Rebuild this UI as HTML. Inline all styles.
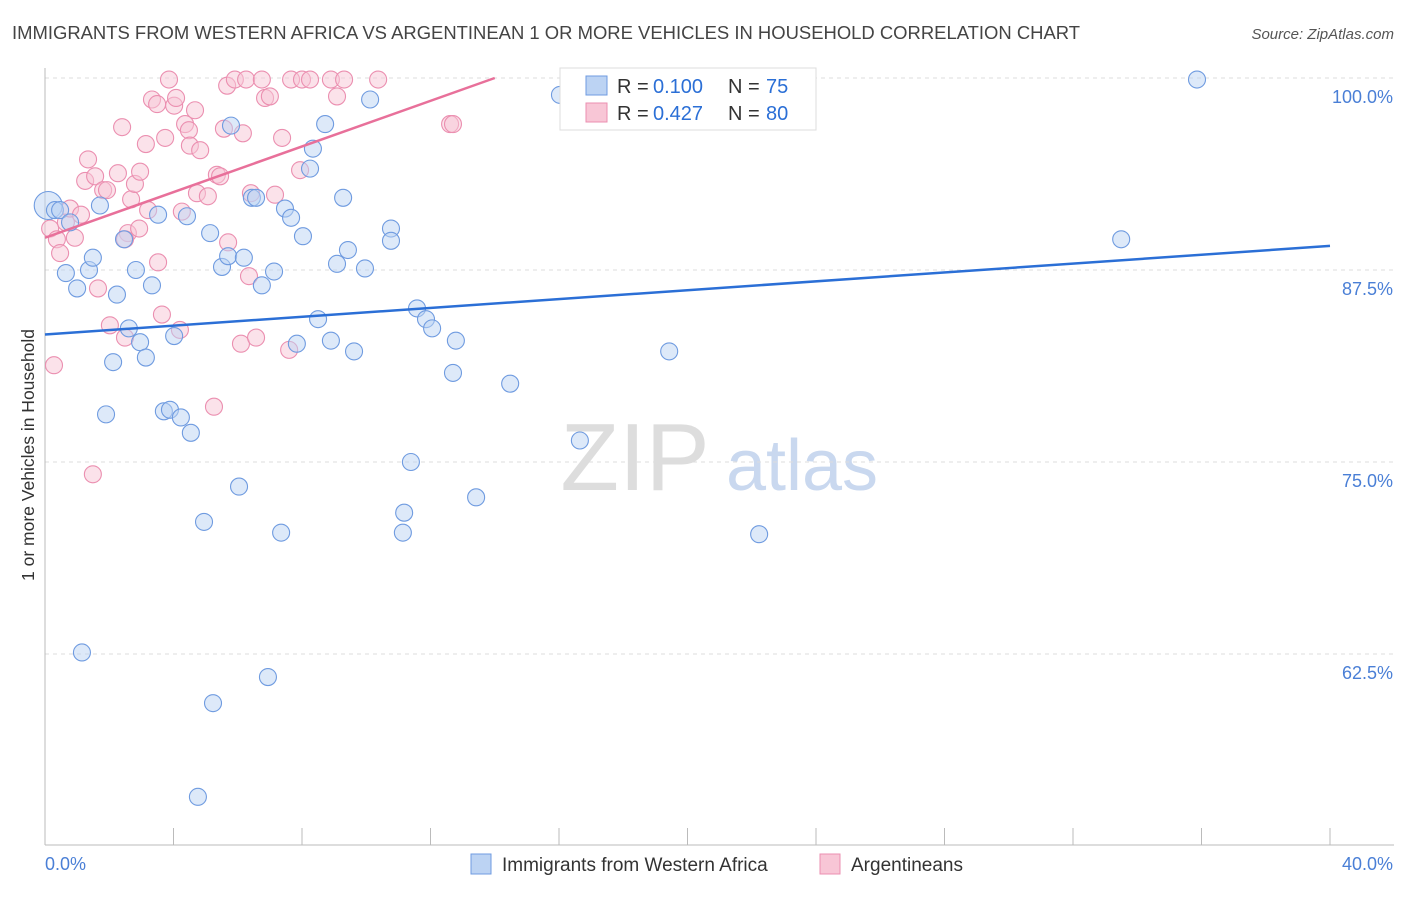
<!DOCTYPE html>
<html><head><meta charset="utf-8"><style>
body{margin:0;background:#fff;font-family:"Liberation Sans",sans-serif;}
svg text{font-family:"Liberation Sans",sans-serif;}
</style></head><body>
<svg id="chart" width="1406" height="892" viewBox="0 0 1406 892" xmlns="http://www.w3.org/2000/svg">
<text x="12" y="39" font-size="18.4" fill="#444" textLength="1068" lengthAdjust="spacingAndGlyphs">IMMIGRANTS FROM WESTERN AFRICA VS ARGENTINEAN 1 OR MORE VEHICLES IN HOUSEHOLD CORRELATION CHART</text>
<text x="1394" y="39" font-size="15" fill="#555" text-anchor="end" font-style="italic">Source: ZipAtlas.com</text>
<text transform="translate(34,455) rotate(-90)" font-size="17.5" fill="#333" text-anchor="middle">1 or more Vehicles in Household</text>
<g>
<text x="635" y="490" font-size="96" fill="#ddd" font-family="Liberation Serif" text-anchor="middle">ZIP</text>
<text x="802" y="490" font-size="72" fill="#c9d8ef" text-anchor="middle">atlas</text>
</g>
<g id="grid"></g><g id="ticks"></g><g id="trends"></g><g id="pts"></g>
<g>
<rect x="560" y="68" width="256" height="62" fill="#fff" stroke="#ddd"/>
<rect x="586" y="76" width="21" height="19" fill="#bcd3f3" stroke="#6f9be0"/>
<text x="617" y="93" font-size="20" fill="#333">R =</text>
<text x="653" y="93" font-size="20" fill="#2b6fd6">0.100</text>
<text x="728" y="93" font-size="20" fill="#333">N =</text>
<text x="766" y="93" font-size="20" fill="#2b6fd6">75</text>
<rect x="586" y="103" width="21" height="19" fill="#f8c6d6" stroke="#eb8fb0"/>
<text x="617" y="120" font-size="20" fill="#333">R =</text>
<text x="653" y="120" font-size="20" fill="#2b6fd6">0.427</text>
<text x="728" y="120" font-size="20" fill="#333">N =</text>
<text x="766" y="120" font-size="20" fill="#2b6fd6">80</text>
</g>
<g>
<rect x="471" y="854" width="20" height="20" fill="#bcd3f3" stroke="#6f9be0"/>
<text x="502" y="871" font-size="19" fill="#333">Immigrants from Western Africa</text>
<rect x="820" y="854" width="20" height="20" fill="#f8c6d6" stroke="#eb8fb0"/>
<text x="851" y="871" font-size="19" fill="#333">Argentineans</text>
</g>
</svg>
<script>
const xTicks=[0,40];
const yTicks=[100,87.5,75,62.5];
const blueX=[0.1,0.31,0.47,0.78,0.65,1.0,1.37,1.49,1.71,2.24,2.12,1.9,2.46,2.83,2.61,2.96,3.14,3.33,3.52,3.7,3.89,4.02,4.23,4.42,4.54,4.95,5.14,5.23,4.76,5.51,5.7,5.79,6.04,6.19,6.44,6.57,6.75,6.94,7.13,7.35,7.47,7.66,7.84,8.03,8.25,8.34,8.5,8.72,8.9,9.09,9.28,9.43,9.62,9.96,10.12,10.77,10.77,11.18,11.14,11.39,11.58,11.86,12.05,12.7,12.79,13.42,14.48,16.03,16.65,19.43,22.23,33.5,35.86,1.15];
const blueY=[91.7,91.4,91.4,90.6,87.3,86.3,87.5,88.3,91.7,85.9,81.5,78.1,89.5,87.5,83.7,82.8,81.8,86.5,91.1,78.3,78.4,83.2,77.9,91.0,76.9,71.1,89.9,59.3,53.2,87.7,88.4,96.9,73.4,88.3,92.2,92.2,86.5,61.0,87.4,70.4,91.5,90.9,82.7,89.7,94.1,95.4,84.3,97.0,82.9,87.9,92.2,88.8,82.2,87.6,98.6,90.2,89.4,71.7,70.4,75.0,85.0,84.3,83.7,80.8,82.9,72.7,80.1,98.9,76.4,82.2,70.3,89.5,99.9,62.6];
const pinkX=[0.28,0.16,0.37,0.47,0.65,0.78,0.93,1.12,1.34,1.25,1.56,1.65,1.81,1.93,1.49,2.02,2.27,2.4,2.49,2.58,2.68,2.8,2.96,2.93,3.14,3.21,3.33,3.49,3.52,3.64,3.74,3.86,4.02,4.08,4.2,4.26,4.36,4.48,4.51,4.67,4.73,5.07,5.26,5.35,5.45,5.57,5.67,5.7,5.91,6.1,6.16,6.26,6.35,6.41,6.57,6.75,6.85,7.16,7.38,7.6,7.66,7.94,8.0,8.25,8.9,9.09,9.31,10.37,12.61,12.7,4.83,7.0,2.49];
const pinkY=[81.3,90.2,89.5,88.6,90.6,91.5,89.6,91.1,94.7,93.3,93.6,86.3,92.7,92.7,74.2,83.9,93.8,96.8,83.1,89.9,92.1,93.1,93.9,90.2,95.7,91.4,98.6,98.3,88.0,84.6,96.1,99.9,98.2,98.7,83.6,91.3,97.0,96.6,95.6,97.9,92.5,92.3,78.6,93.7,93.6,96.7,99.5,89.3,99.9,82.7,96.4,99.9,87.1,92.5,83.1,99.9,98.7,92.4,96.1,82.3,99.9,94.0,99.9,99.9,99.9,98.8,99.9,99.9,97.0,97.0,95.3,98.8,89.5];
const blueTrend=[[0,83.3],[40,89.07]];
const pinkTrend=[[0,89.6],[14.0,100]];
const NS='http://www.w3.org/2000/svg';
const X0=45,X1=1330,Y100=78,PXPER=15.36;
function sx(v){return X0+(v/40)*(X1-X0);}
function sy(v){return Y100+(100-v)*PXPER;}
function mk(tag,attrs,parent){const e=document.createElementNS(NS,tag);for(const k in attrs)e.setAttribute(k,attrs[k]);parent.appendChild(e);return e;}
const grid=document.getElementById('grid'),ticks=document.getElementById('ticks'),trends=document.getElementById('trends'),pts=document.getElementById('pts');
yTicks.forEach(v=>{
 const l=mk('line',{x1:X0,x2:1394,y1:sy(v),y2:sy(v),stroke:'#ddd','stroke-dasharray':'4,4'},grid);
 
 
 const t=mk('text',{x:1393,y:sy(v)+25,'font-size':18,fill:'#4a7fd6','text-anchor':'end'},ticks);
 t.textContent=v.toFixed(1)+'%';
 
 
});
const ax=mk('line',{x1:X0,x2:X0,y1:68,y2:845,stroke:'#bbb'},grid);


const bx=mk('line',{x1:X0,x2:1394,y1:845,y2:845,stroke:'#bbb'},grid);


for(let i=0;i<=10;i++){const x=sx(i*4);const tk=mk('line',{x1:x,x2:x,y1:828,y2:845,stroke:'#bbb'},grid);
 
 }
xTicks.forEach((v,i)=>{const t=mk('text',{x:i===0?45:1393,y:870,'font-size':18,fill:'#4a7fd6','text-anchor':i===0?'start':'end'},ticks);
 t.textContent=v.toFixed(1)+'%';
 
 });
function drawPts(xs,ys,fill,stroke,name){xs.forEach((v,i)=>{const c=mk('circle',{cx:sx(v),cy:sy(ys[i]),r:(name==='blue-point'&&i===0)?14:8.5,fill:fill,'fill-opacity':0.5,stroke:stroke,'stroke-width':1.1},pts);
 
 });}
drawPts(pinkX,pinkY,'#f8c6d6','#eb8fb0','pink-point');
drawPts(blueX,blueY,'#bcd3f3','#6f9be0','blue-point');
const bl=mk('line',{x1:sx(blueTrend[0][0]),y1:sy(blueTrend[0][1]),x2:sx(blueTrend[1][0]),y2:sy(blueTrend[1][1]),stroke:'#2b6fd6','stroke-width':2.5},trends);


const pl=mk('line',{x1:sx(pinkTrend[0][0]),y1:sy(pinkTrend[0][1]),x2:sx(pinkTrend[1][0]),y2:sy(pinkTrend[1][1]),stroke:'#e8709a','stroke-width':2.5},trends);


document.getElementById('chart').appendChild(trends);
</script>
</body></html>
